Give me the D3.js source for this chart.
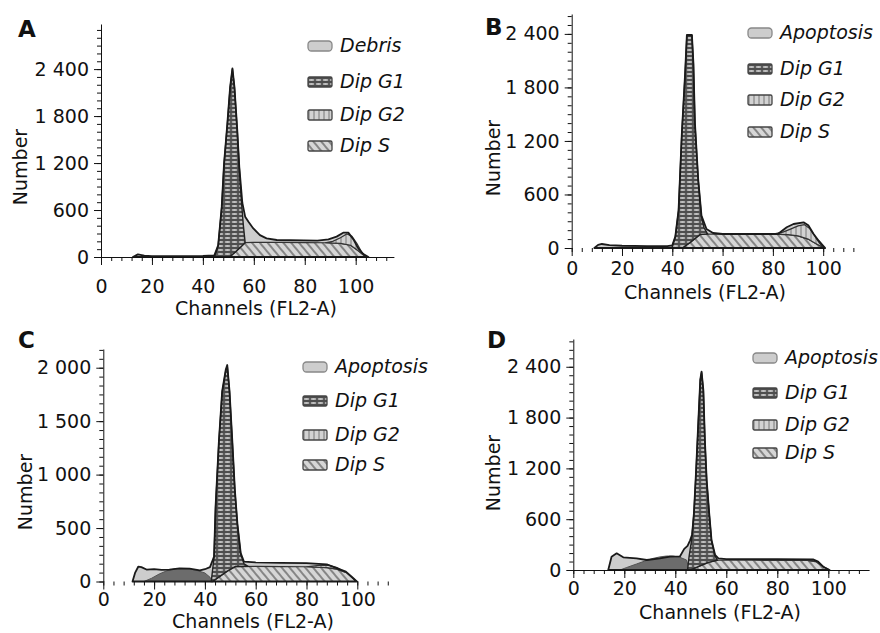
<!DOCTYPE html>
<html>
<head>
<meta charset="utf-8">
<script src="https://cdn.jsdelivr.net/npm/d3@7"></script>
<style>
  body { margin: 0; background: #fff; }
  svg { display: block; }
  text { font-family: "DejaVu Sans", Verdana, sans-serif; fill: #111; }
</style>
</head>
<body>
<svg width="880" height="633"></svg>
<script>
  //Tick values and labels
  const channelTicks = [0, 20, 40, 60, 80, 100];
  const countTicksABD = [0, 600, 1200, 1800, 2400];
  const countTicksC = [0, 500, 1000, 1500, 2000];
  const panelLetters = ['A', 'B', 'C', 'D'];
  const legendDebris = ['Debris', 'Dip G1', 'Dip G2', 'Dip S'];
  const legendApop = ['Apoptosis', 'Dip G1', 'Dip G2', 'Dip S'];

  //Histograms: [channel, number]
  //Panel A
  const aTotal = [[12.5,0],[14.5,34],[17,18],[20,12],[30,12],[40,13],[44.5,20],[46,150],[47.4,640],[48.3,1190],[49.6,1700],[50.7,2170],[51.6,2410],[52.4,2170],[53.5,1620],[54.3,1150],[55.5,690],[56.6,515],[57.9,450],[59.8,365],[62.4,280],[65,238],[69,217],[85,209],[89.3,225],[92.5,260],[95.1,311],[97.1,311],[99.1,225],[101,111],[103,38],[105,0]];
  const aG1 = [[44.5,0],[46,140],[47.4,630],[48.3,1180],[49.6,1690],[50.7,2160],[51.6,2400],[52.4,2160],[53.5,1610],[54.3,1140],[55.2,680],[55.9,400],[56.6,183]];
  const aS = [[50.4,0],[53,70],[56.6,183],[60,188],[70,186],[80,184],[88,182],[94,175],[98,150],[101,80],[104,0]];
  const aG2 = [[88,182],[91,200],[94,245],[96.5,295],[98.5,265],[100.5,170],[102.5,55],[104,0]];

  //Panel B
  const bTotal = [[9,0],[10.5,35],[12,45],[15,32],[20,25],[30,22],[38,20],[40,30],[41.2,127],[42.5,426],[43.8,1286],[45.1,1958],[45.8,2390],[47.8,2390],[48.4,2070],[49,1404],[50.3,770],[51.6,363],[53.6,213],[56.2,168],[60,157],[82,157],[85.5,232],[88.2,269],[92.2,288],[94.2,251],[96.2,157],[98.2,82],[100.8,0]];
  const bG1 = [[39.8,0],[41.2,120],[42.5,420],[43.8,1280],[45.1,1950],[45.8,2380],[47.8,2380],[48.4,2060],[49,1395],[50.3,760],[51.6,350],[52.6,230],[54,157]];
  const bS = [[44,0],[47,60],[51,150],[54,157],[80,155],[86,150],[90,135],[94,100],[97,50],[100.5,0]];
  const bG2 = [[80,155],[84,178],[87,212],[90,248],[92.5,262],[94.5,222],[96.5,140],[98.5,55],[100.5,0]];

  //Panel C
  const cTotal = [[11.5,0],[12.5,80],[13.8,140],[15,135],[17,112],[20,115],[23,108],[26,112],[30,122],[34,120],[38,105],[40,115],[42,135],[43.6,232],[44.2,700],[45.5,1310],[46.8,1780],[48.2,1980],[48.8,2025],[49.7,1780],[50.8,1310],[51.8,855],[52.8,540],[54.1,265],[55.4,185],[60,178],[70,175],[80,172],[88,160],[90.3,140],[95.5,92],[98,40],[99.8,0]];
  const cHump = [[16,0],[19,30],[22,70],[25,100],[28,118],[31,122],[34,118],[37,102],[40,80],[42,40],[43,0]];
  const cG1 = [[42.5,0],[43.6,225],[44.2,690],[45.5,1300],[46.8,1770],[48.2,1970],[48.8,2015],[49.7,1770],[50.8,1300],[51.8,845],[52.8,530],[54.1,255],[55.4,165],[57,141]];
  const cS = [[43,0],[46,50],[49,100],[52,140],[60,142],[70,140],[80,138],[88,130],[92,115],[95.5,85],[98,35],[99.8,0]];
  const cG2 = [[80,138],[85,150],[89,152],[92,130],[95.5,85]];

  //Panel D
  const dTotal = [[13.7,0],[15,157],[17,197],[19.6,150],[24.8,138],[28.8,118],[34,138],[37.9,157],[41.8,160],[43.5,250],[44.8,285],[45.8,350],[46.6,420],[47.3,669],[48.1,1142],[49,1732],[49.8,2250],[50.3,2342],[51,2126],[51.6,1535],[52.3,1063],[53.3,669],[54.2,354],[55.6,177],[56.9,138],[60,128],[80,128],[94,126],[96,99],[98,39],[100.5,0]];
  const dHump = [[18.3,0],[21,30],[24.8,71],[28,105],[31.4,138],[34,155],[36.6,165],[39,165],[41.8,150],[44.4,118],[45.5,0]];
  const dG1 = [[44.8,0],[45.4,157],[46.4,354],[47.3,660],[48.1,1130],[49,1720],[49.8,2240],[50.3,2335],[51,2115],[51.6,1525],[52.3,1053],[53.3,660],[54.2,345],[55.6,165],[56.5,115]];
  const dS = [[46,0],[49,40],[53,90],[56.5,115],[70,115],[85,114],[92,112],[95,100],[98,40],[100.5,0]];
  const dG2 = [[85,114],[89,122],[92.5,124],[95,100]];

  //Layout of the four panels
  const panels = [
    { letter: panelLetters[0], total: aTotal, g1: aG1, s: aS, g2: aG2, hump: null, legend: legendDebris,
      x0: 101, x1: 393.9, xMax: 115, y0: 257, yTop: 24, yMax: 2976, yTicks: countTicksABD, yMinor: 100,
      xPad: 15, xLine: true, letterPos: [18, 37], numberPos: [20, 167], titlePos: [256, 315],
      legX: 308, legY: [46, 82, 115, 146] },
    { letter: panelLetters[1], total: bTotal, g1: bG1, s: bS, g2: bG2, hump: null, legend: legendApop,
      x0: 571.7, x1: 860.9, xMax: 115, y0: 248, yTop: 14, yMax: 2623, yTicks: countTicksABD, yMinor: 100,
      xPad: 6, xLine: false, letterPos: [485, 35], numberPos: [493, 158], titlePos: [705, 299],
      legX: 748, legY: [33, 69, 100, 132] },
    { letter: panelLetters[2], total: cTotal, g1: cG1, s: cS, g2: cG2, hump: cHump, legend: legendApop,
      x0: 103.3, x1: 395.4, xMax: 115, y0: 581.5, yTop: 349, yMax: 2175, yTicks: countTicksC, yMinor: 500 / 6,
      xPad: 3, xLine: false, letterPos: [18, 348], numberPos: [25, 492], titlePos: [253, 628],
      legX: 303, legY: [367, 401, 435, 465] },
    { letter: panelLetters[3], total: dTotal, g1: dG1, s: dS, g2: dG2, hump: dHump, legend: legendApop,
      x0: 573.3, x1: 869.1, xMax: 116, y0: 570, yTop: 339, yMax: 2728, yTicks: countTicksABD, yMinor: 100,
      xPad: 4, xLine: true, letterPos: [487, 348], numberPos: [493, 473], titlePos: [720, 619],
      legX: 753, legY: [358, 393, 425, 453] }
  ];

  const lightFill = '#cdcdcd';
  const humpFill = '#6c6c6c';
  const fmt = d3.formatLocale({ decimal: '.', thousands: ' ', grouping: [3], currency: ['', ''] }).format(',');

  const svg = d3.select('svg');

  //Fill patterns for the cell cycle phases
  const defs = svg.append('defs');

  const pG1 = defs.append('pattern').attr('id', 'patG1')
    .attr('patternUnits', 'userSpaceOnUse').attr('width', 7).attr('height', 4);
  pG1.append('rect').attr('width', 7).attr('height', 4).attr('fill', '#4e4e4e');
  pG1.append('ellipse').attr('cx', 3.5).attr('cy', 2).attr('rx', 3).attr('ry', 1.1).attr('fill', '#c4c4c4');

  const pS = defs.append('pattern').attr('id', 'patS')
    .attr('patternUnits', 'userSpaceOnUse').attr('width', 6).attr('height', 6)
    .attr('patternTransform', 'rotate(-40)');
  pS.append('rect').attr('width', 6).attr('height', 6).attr('fill', '#d6d6d6');
  pS.append('line').attr('x1', 1).attr('y1', 0).attr('x2', 1).attr('y2', 6)
    .attr('stroke', '#5a5a5a').attr('stroke-width', 1.3);

  const pG2 = defs.append('pattern').attr('id', 'patG2')
    .attr('patternUnits', 'userSpaceOnUse').attr('width', 5).attr('height', 5);
  pG2.append('rect').attr('width', 5).attr('height', 5).attr('fill', '#d2d2d2');
  pG2.append('line').attr('x1', 1).attr('y1', 0).attr('x2', 1).attr('y2', 5)
    .attr('stroke', '#777').attr('stroke-width', 1);

  //Builds a closed band: component top, then back along the S phase it sits on
  function band(top, base) {
    const lo = top[0][0], hi = top[top.length - 1][0];
    return top.concat(base.filter(d => d[0] >= lo && d[0] <= hi).reverse());
  }

  panels.forEach(p => {
    const g = svg.append('g');
    const x = d3.scaleLinear().domain([0, p.xMax]).range([p.x0, p.x1]);
    const y = d3.scaleLinear().domain([0, p.yMax]).range([p.y0, p.yTop]);

    const area = d3.area().x(d => x(d[0])).y0(y(0)).y1(d => y(d[1]));
    const line = d3.line().x(d => x(d[0])).y(d => y(d[1]));

    //Apoptosis / debris envelope
    g.append('path').datum(p.total).attr('d', area).attr('fill', lightFill);

    if (p.hump) {
      g.append('path').datum(p.hump).attr('d', area)
        .attr('fill', humpFill).attr('stroke', '#555').attr('stroke-width', 1);
    }

    //S phase
    g.append('path').datum(p.s).attr('d', area)
      .attr('fill', 'url(#patS)').attr('stroke', '#333').attr('stroke-width', 1.2);

    //G2 and G1 stacked on S
    g.append('path').datum(band(p.g2, p.s)).attr('d', d => line(d) + 'Z')
      .attr('fill', 'url(#patG2)').attr('stroke', '#333').attr('stroke-width', 1.2);
    g.append('path').datum(band(p.g1, p.s)).attr('d', d => line(d) + 'Z')
      .attr('fill', 'url(#patG1)').attr('stroke', '#222').attr('stroke-width', 1.4);

    //Outline of the whole histogram
    g.append('path').datum(p.total).attr('d', area)
      .attr('fill', 'none').attr('stroke', '#1a1a1a').attr('stroke-width', 1.8).attr('stroke-linejoin', 'round');

    //X axis: minor ticks then labelled ticks
    const xMinor = g.append('g').attr('transform', `translate(0,${p.y0})`)
      .call(d3.axisBottom(x).tickValues(d3.range(0, p.xMax - 1, 4)).tickSize(4).tickSizeOuter(0).tickFormat(''));
    const xMajor = g.append('g').attr('transform', `translate(0,${p.y0})`)
      .call(d3.axisBottom(x).tickValues(channelTicks).tickSize(8).tickSizeOuter(0)
        .tickPadding(p.xPad).tickFormat(d3.format('d')));
    xMajor.select('.domain').remove();
    if (!p.xLine) xMinor.select('.domain').remove();

    //Y axis
    g.append('g').attr('transform', `translate(${p.x0},0)`)
      .call(d3.axisLeft(y).tickValues(d3.range(0, p.yMax, p.yMinor)).tickSize(4).tickSizeOuter(0).tickFormat(''));
    g.append('g').attr('transform', `translate(${p.x0},0)`)
      .call(d3.axisLeft(y).tickValues(p.yTicks).tickSize(7).tickSizeOuter(0).tickPadding(5).tickFormat(fmt))
      .select('.domain').remove();

    g.selectAll('.tick line').attr('stroke', '#111');
    g.selectAll('.domain').attr('stroke', '#111');
    g.selectAll('.tick text').style('font-size', '19px').style('font-family', '"DejaVu Sans", Verdana, sans-serif').attr('fill', '#111');

    //Titles
    g.append('text').attr('x', p.titlePos[0]).attr('y', p.titlePos[1])
      .attr('text-anchor', 'middle').style('font-size', '19px').text('Channels (FL2-A)');
    g.append('text').attr('transform', `translate(${p.numberPos[0]},${p.numberPos[1]}) rotate(-90)`)
      .attr('dy', '0.35em').attr('text-anchor', 'middle').style('font-size', '19px').text('Number');
    g.append('text').attr('x', p.letterPos[0]).attr('y', p.letterPos[1])
      .style('font-size', '23px').style('font-weight', 'bold').text(p.letter);

    //Legend
    const iconFills = [lightFill, 'url(#patG1)', 'url(#patG2)', 'url(#patS)'];
    const leg = g.selectAll('.leg').data(p.legend).enter().append('g')
      .attr('transform', (d, i) => `translate(${p.legX},${p.legY[i]})`);
    leg.append('rect').attr('x', 0).attr('y', -5).attr('width', 24).attr('height', 10).attr('rx', (d, i) => i === 0 ? 3.5 : 1.5)
      .attr('fill', (d, i) => iconFills[i]).attr('stroke', (d, i) => i === 0 ? '#888' : '#444').attr('stroke-width', 1.3);
    leg.append('text').attr('x', 32).attr('y', 6)
      .style('font-size', '19px').style('font-style', 'italic').text(d => d);
  });
</script>
</body>
</html>
